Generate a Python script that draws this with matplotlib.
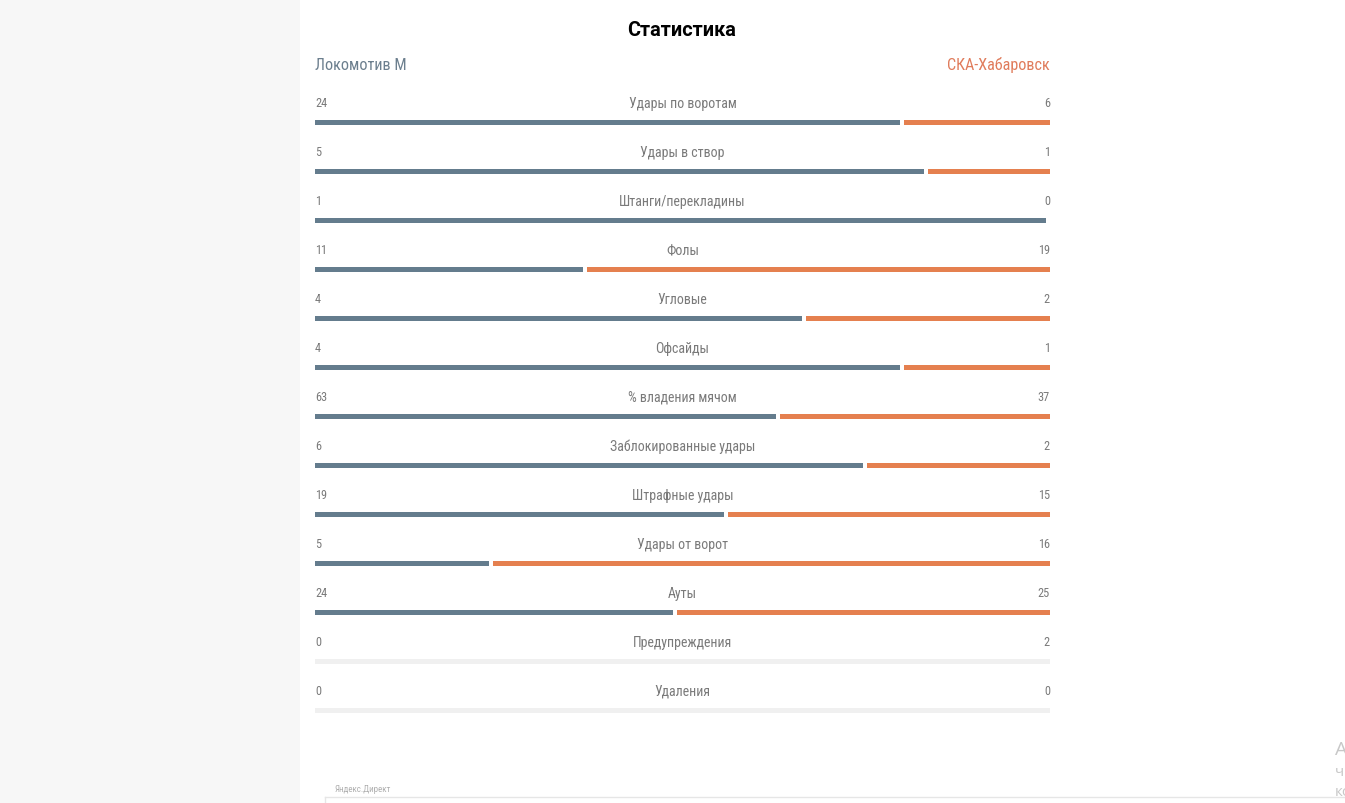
import matplotlib
matplotlib.use("Agg")
import matplotlib.pyplot as plt
from matplotlib.patches import Rectangle
from matplotlib.lines import Line2D

# ---- data ----
title = "Статистика"
home_team = "Локомотив М"
away_team = "СКА-Хабаровск"
categories = ["Удары по воротам", "Удары в створ", "Штанги/перекладины", "Фолы",
              "Угловые", "Офсайды", "% владения мячом", "Заблокированные удары",
              "Штрафные удары", "Удары от ворот", "Ауты", "Предупреждения", "Удаления"]
home_vals = [24, 5, 1, 11, 4, 4, 63, 6, 19, 5, 24, 0, 0]
away_vals = [6, 1, 0, 19, 2, 1, 37, 2, 15, 16, 25, 2, 0]
bar_shown = [True] * 11 + [False, False]

HOME_C = "#647c8d"
AWAY_C = "#e5804f"
TRACK_C = "#f0f0f0"
TEXT_C = "#7a7a7a"

W, H = 1345, 804
fig = plt.figure(figsize=(W / 100, H / 100), dpi=100)
fig.patch.set_facecolor("white")
fonts = ["Roboto Condensed", "Liberation Sans Narrow", "Roboto", "DejaVu Sans"]
plt.rcParams["font.family"] = fonts

# left page margin panel
fig.patches.append(Rectangle((0, 0), 300 / W, 1, transform=fig.transFigure,
                             facecolor="#f7f7f7", edgecolor="none", zorder=0))

# bars axes: x 315..1050 px, rows centered at 123 + 49*i
x0, x1 = 315, 1050
y_top, y_bot = 74, 760
ax = fig.add_axes([x0 / W, (H - y_bot) / H, (x1 - x0) / W, (y_bot - y_top) / H])
ax.set_xlim(0, 1)
ax.set_ylim(13, -1)
ax.axis("off")
ax.patch.set_alpha(0)

gap = 4 / (x1 - x0)
bh = 5 / 49
n = len(categories)
for i in range(n):
    h, a = home_vals[i], away_vals[i]
    if bar_shown[i] and (h + a) > 0:
        fh = h / (h + a)
        fa = a / (h + a)
        usable = 1 - gap
        if fh > 0:
            ax.barh(i, fh * usable, left=0, height=bh, color=HOME_C, linewidth=0)
        if fa > 0:
            ax.barh(i, fa * usable, left=1 - fa * usable, height=bh, color=AWAY_C, linewidth=0)
    else:
        ax.barh(i, 1, left=0, height=bh, color=TRACK_C, linewidth=0)
    ty = i - 0.39
    ax.text(0, ty, str(h), ha="left", va="center", fontsize=8.8, color=TEXT_C)
    ax.text(1, ty, str(a), ha="right", va="center", fontsize=8.8, color=TEXT_C)
    ax.text(0.5, i - 0.39, categories[i], ha="center", va="center", fontsize=10, color=TEXT_C)

# header
fig.text(682 / W, 1 - 30 / H, title, ha="center", va="center", fontsize=14.3,
         fontweight="bold", color="black", family=["Roboto", "DejaVu Sans"])
fig.text(x0 / W, 1 - 65 / H, home_team, ha="left", va="center", fontsize=11.6, color="#6c7f8e")
fig.text(x1 / W, 1 - 65 / H, away_team, ha="right", va="center", fontsize=11.6, color="#e07c5c")

# ad block remnants
fig.text(335 / W, 1 - 790 / H, "Яндекс.Директ", ha="left", va="center", fontsize=6.5, color="#b0b0b0")
fig.lines.append(Line2D([325 / W, 1], [1 - 798 / H, 1 - 798 / H], transform=fig.transFigure,
                        color="#e6e6e6", linewidth=1))
fig.lines.append(Line2D([325 / W, 325 / W], [1 - 798 / H, 0], transform=fig.transFigure,
                        color="#e6e6e6", linewidth=1))
fig.text(1335 / W, 1 - 750 / H, "А", ha="left", va="center", fontsize=14, color="#c8c8c8",
         family=["Open Sans", "DejaVu Sans"])
fig.text(1335 / W, 1 - 773 / H, "ч", ha="left", va="center", fontsize=11, color="#c8c8c8",
         family=["Open Sans", "DejaVu Sans"])
fig.text(1335 / W, 1 - 793 / H, "ко", ha="left", va="center", fontsize=11, color="#c8c8c8",
         family=["Open Sans", "DejaVu Sans"])

fig.savefig("out.png", dpi=100, facecolor="white")
